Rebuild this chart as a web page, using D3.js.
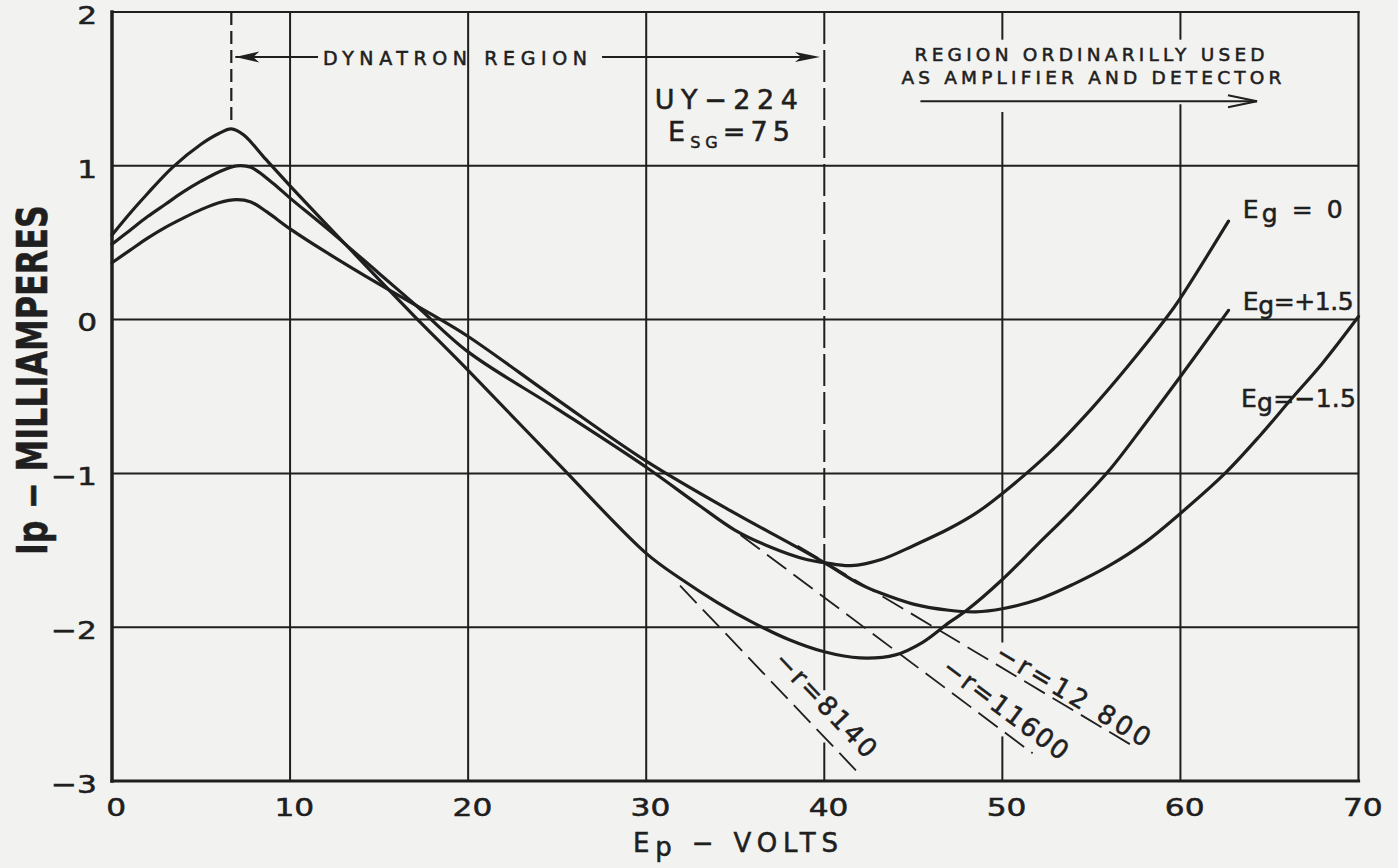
<!DOCTYPE html>
<html>
<head>
<meta charset="utf-8">
<title>UY-224 dynatron characteristic</title>
<script src="https://cdn.jsdelivr.net/npm/d3@7/dist/d3.min.js"></script>
<style>
body { margin: 0; background: #f2f2f0; }
svg { display: block; }
text { font-family: "DejaVu Sans", sans-serif; fill: #1f1f1f; stroke: #1f1f1f; stroke-width: 0.55px; }
</style>
</head>
<body>
<div class="plate-chart"></div>
<script>
// gridlines: Ep in volts, Ip in milliamperes
const volts = [0, 10, 20, 30, 40, 50, 60, 70];
const milliamps = [-3, -2, -1, 0, 1, 2];

// curves, [Ep, Ip]
const egZero = [[0,0.49],[1,0.58],[2,0.67],[3,0.75],[4,0.83],[5,0.9],[6,0.96],[7,1.0],[7.8,0.99],[9,0.89],[10,0.79],
	[12.2,0.58],[15,0.3],[17,0.1],[20,-0.21],[25,-0.58],[30,-0.96],[33,-1.21],[35,-1.37],[37,-1.48],[39,-1.56],[40,-1.58],
	[41.5,-1.6],[43.2,-1.56],[45,-1.47],[47,-1.36],[48.5,-1.26],[50,-1.13],[52.6,-0.87],[55,-0.58],[57,-0.31],[59.2,0.01],
	[60,0.14],[62.7,0.64]];
const egPlus = [[0,0.55],[1,0.69],[2,0.82],[3.4,0.99],[5,1.14],[6,1.21],[6.7,1.24],[7.4,1.2],[8.5,1.06],[10,0.87],
	[12.2,0.6],[15,0.26],[17,0.02],[20,-0.33],[25,-0.93],[30,-1.52],[32,-1.69],[34,-1.84],[36,-1.97],[38,-2.08],[40,-2.16],
	[42,-2.2],[44,-2.18],[45.5,-2.1],[47,-1.97],[48,-1.89],[50,-1.69],[52,-1.46],[54,-1.23],[56,-0.98],[58,-0.68],
	[60,-0.37],[62.7,0.06]];
const egMinus = [[0,0.37],[1,0.45],[2,0.53],[3,0.6],[4,0.66],[5,0.715],[6,0.76],[7,0.78],[7.8,0.765],[8.7,0.7],[10,0.59],
	[12,0.44],[15,0.23],[18,0.03],[20,-0.11],[25,-0.52],[30,-0.92],[35,-1.26],[38,-1.45],[40,-1.58],[42,-1.72],[43.2,-1.78],
	[45,-1.85],[47,-1.89],[48.5,-1.9],[50,-1.88],[52,-1.82],[54,-1.72],[56,-1.6],[58,-1.45],[59.9,-1.27],[62.5,-1.0],
	[64.5,-0.75],[66.2,-0.52],[68,-0.28],[70,0.02]];
const egNames = ["0", "+1.5", "\u22121.5"];

// negative resistance tangents
const loadR = ["8140", "11600", "12 800"];
const loadFrom = [[31.9,-1.73],[35.3,-1.40],[38.5,-1.47]];
const loadTo = [[42.1,-2.97],[51.7,-2.82],[57.3,-2.77]];

function charting() {
	const width = 1398;
	const height = 868;
	const ink = "#1f1f1f";

	const x = d3.scaleLinear().domain([0, 70]).range([112, 1358.5]);
	const y = d3.scaleLinear().domain([-3, 2]).range([781, 12]);

	const svg = d3.select('.plate-chart')
		.append('svg')
		.attr('width', width)
		.attr('height', height);

	svg.append('rect').attr('width', width).attr('height', height).attr('fill', '#f2f2f0');

	// grid, with the breaks left for lettering
	const grid = svg.append('g').attr('stroke', ink).attr('stroke-width', 2).attr('fill', 'none');
	grid.selectAll('.hline')
		.data(milliamps.slice(1, -1))
		.enter()
		.append('line')
		.attr('x1', x(0)).attr('x2', x(70))
		.attr('y1', d => y(d)).attr('y2', d => y(d));

	const gaps = { 40: [[-2.75, -2.41]], 50: [[-2.71, -2.10], [1.35, 1.82]], 60: [[1.40, 1.82]] };
	const segs = [];
	volts.slice(1, -1).forEach(v => {
		let lo = -3;
		const top = v === 40 ? -1.58 : 2;
		(gaps[v] || []).forEach(g => { segs.push([v, lo, g[0]]); lo = g[1]; });
		segs.push([v, lo, top]);
	});
	grid.selectAll('.vline')
		.data(segs)
		.enter()
		.append('line')
		.attr('x1', d => x(d[0])).attr('x2', d => x(d[0]))
		.attr('y1', d => y(d[1])).attr('y2', d => y(d[2]));
	// Ep = 40 boundary is dashed above the curves
	grid.append('line')
		.attr('x1', x(40)).attr('x2', x(40))
		.attr('y1', y(2)).attr('y2', y(-1.58))
		.attr('stroke-dasharray', '32,6');

	// frame
	const frame = svg.append('g').attr('stroke', ink).attr('stroke-linecap', 'square');
	frame.append('line').attr('x1', x(0)).attr('x2', x(0)).attr('y1', y(2)).attr('y2', y(-3)).attr('stroke-width', 3.5);
	frame.append('line').attr('x1', x(0)).attr('x2', x(70)).attr('y1', y(-3)).attr('y2', y(-3)).attr('stroke-width', 3.2);
	frame.append('line').attr('x1', x(0)).attr('x2', x(70)).attr('y1', y(2)).attr('y2', y(2)).attr('stroke-width', 2.2);
	frame.append('line').attr('x1', x(70)).attr('x2', x(70)).attr('y1', y(2)).attr('y2', y(-3)).attr('stroke-width', 2.2);

	// tick labels
	const fmt = d => d < 0 ? "\u2212" + Math.abs(d) : String(d);
	const xAxis = svg.append('g')
		.attr('transform', `translate(0,${y(-3)})`)
		.call(d3.axisBottom(x).tickValues(volts).tickSize(0).tickPadding(17).tickFormat(fmt));
	const yAxis = svg.append('g')
		.attr('transform', `translate(${x(0)},0)`)
		.call(d3.axisLeft(y).tickValues(milliamps).tickSize(0).tickPadding(12).tickFormat(fmt));
	[xAxis, yAxis].forEach(a => {
		a.select('.domain').remove();
		a.attr('font-size', 25).attr('font-family', '"DejaVu Sans", sans-serif').attr('color', ink);
		a.selectAll('text').attr('transform', 'scale(1.25,1)');
	});
	xAxis.selectAll('text').attr('x', 3);
	yAxis.selectAll('text').attr('dy', '0.45em');

	// axis titles
	const xt = svg.append('text')
		.attr('x', 633).attr('y', 852)
		.attr('font-size', 26)
		.attr('textLength', 205).attr('lengthAdjust', 'spacing');
	xt.append('tspan').text('E');
	xt.append('tspan').attr('dy', 4).text('p');
	xt.append('tspan').attr('dy', -4).text(' \u2212 VOLTS');

	const yt = svg.append('text')
		.attr('transform', 'translate(47,380) rotate(-90)')
		.attr('text-anchor', 'middle')
		.attr('font-size', 42).attr('font-weight', 'bold')
		.attr('stroke-width', 0)
		.attr('font-family', '"DejaVu Sans Condensed", "DejaVu Sans", sans-serif')
		.attr('textLength', 350).attr('lengthAdjust', 'spacingAndGlyphs');
	yt.append('tspan').text('Ip \u2212 MILLIAMPERES');

	// tangent lines and their labels
	const loads = svg.append('g');
	loadR.forEach((r, i) => {
		loads.append('line')
			.attr('x1', x(loadFrom[i][0])).attr('y1', y(loadFrom[i][1]))
			.attr('x2', x(loadTo[i][0])).attr('y2', y(loadTo[i][1]))
			.attr('stroke', ink).attr('stroke-width', 1.8).attr('stroke-dasharray', '24,9');
	});
	const loadLabelAt = [[40.1, -2.50], [50.2, -2.53], [54.0, -2.44]];
	const loadLabelLen = [135, 150, 175];
	loadR.forEach((r, i) => {
		const ang = Math.atan2(y(loadTo[i][1]) - y(loadFrom[i][1]), x(loadTo[i][0]) - x(loadFrom[i][0])) * 180 / Math.PI;
		loads.append('text')
			.attr('transform', `translate(${x(loadLabelAt[i][0])},${y(loadLabelAt[i][1])}) rotate(${ang})`)
			.attr('text-anchor', 'middle').attr('dy', '0.36em')
			.attr('font-size', 26)
			.attr('textLength', loadLabelLen[i]).attr('lengthAdjust', 'spacing')
			.text('\u2212r=' + r);
	});

	// the three plate current curves
	const line = d3.line()
		.x(d => x(d[0]))
		.y(d => y(d[1]))
		.curve(d3.curveCatmullRom.alpha(0.5));
	svg.append('g')
		.attr('fill', 'none').attr('stroke', ink).attr('stroke-width', 3.2)
		.attr('stroke-linejoin', 'round').attr('stroke-linecap', 'round')
		.selectAll('path')
		.data([egZero, egPlus, egMinus])
		.enter()
		.append('path')
		.attr('d', line);

	// curve labels
	const egLabelAt = [[63.5, 0.66], [63.5, 0.06], [63.4, -0.57]];
	const egLabelLen = [100, 111, 115];
	egNames.forEach((n, i) => {
		const t = svg.append('text')
			.attr('x', x(egLabelAt[i][0])).attr('y', y(egLabelAt[i][1]))
			.attr('font-size', 25)
			.attr('textLength', egLabelLen[i]).attr('lengthAdjust', 'spacing');
		t.append('tspan').text('E');
		t.append('tspan').attr('dy', 4).text('g');
		t.append('tspan').attr('dy', -4).text(i === 0 ? ' = ' + n : '=' + n);
	});

	// annotations along the top
	const notes = svg.append('g');
	notes.append('line')
		.attr('x1', x(6.7)).attr('x2', x(6.7)).attr('y1', y(2)).attr('y2', y(1.27))
		.attr('stroke', ink).attr('stroke-width', 2.2).attr('stroke-dasharray', '13,6');

	function head(tx, ty, dir, len, half) {
		return `M${tx},${ty}L${tx - dir * len},${ty - half}L${tx - dir * len * 0.75},${ty}L${tx - dir * len},${ty + half}Z`;
	}
	const dynY = y(1.707);
	notes.append('line').attr('x1', x(6.7) + 4).attr('x2', x(11.57)).attr('y1', dynY).attr('y2', dynY)
		.attr('stroke', ink).attr('stroke-width', 2);
	notes.append('line').attr('x1', x(27.52)).attr('x2', x(39.76) - 6).attr('y1', dynY).attr('y2', dynY)
		.attr('stroke', ink).attr('stroke-width', 2);
	notes.append('path').attr('d', head(x(6.7) + 4, dynY, -1, 24, 5.5)).attr('fill', ink);
	notes.append('path').attr('d', head(x(39.76), dynY, 1, 25, 5)).attr('fill', ink);
	notes.append('text')
		.attr('x', x(19.26)).attr('y', y(1.655))
		.attr('text-anchor', 'middle').attr('font-size', 19)
		.attr('textLength', 264).attr('lengthAdjust', 'spacing')
		.text('DYNATRON REGION');

	notes.append('text')
		.attr('x', x(54.9)).attr('y', y(1.68))
		.attr('text-anchor', 'middle').attr('font-size', 18.5)
		.attr('textLength', 350).attr('lengthAdjust', 'spacing')
		.text('REGION ORDINARILLY USED');
	notes.append('text')
		.attr('x', x(55.0)).attr('y', y(1.53))
		.attr('text-anchor', 'middle').attr('font-size', 18.5)
		.attr('textLength', 380).attr('lengthAdjust', 'spacing')
		.text('AS AMPLIFIER AND DETECTOR');
	const ampY = y(1.42);
	notes.append('line').attr('x1', x(45.4)).attr('x2', x(64.3)).attr('y1', ampY).attr('y2', ampY)
		.attr('stroke', ink).attr('stroke-width', 2);
	notes.append('path')
		.attr('d', `M${x(64.3) - 29},${ampY - 6}L${x(64.3)},${ampY}L${x(64.3) - 29},${ampY + 6}`)
		.attr('fill', 'none').attr('stroke', ink).attr('stroke-width', 2);

	notes.append('text')
		.attr('x', x(34.5)).attr('y', y(1.37))
		.attr('text-anchor', 'middle').attr('font-size', 27)
		.attr('textLength', 143).attr('lengthAdjust', 'spacing')
		.text('UY\u2212224');
	const esg = notes.append('text')
		.attr('x', 668).attr('y', y(1.16))
		.attr('font-size', 27)
		.attr('textLength', 122).attr('lengthAdjust', 'spacing');
	esg.append('tspan').text('E');
	esg.append('tspan').attr('dy', 7).attr('font-size', 16).text('SG');
	esg.append('tspan').attr('dy', -7).text('=75');
}

charting();
</script>
</body>
</html>
